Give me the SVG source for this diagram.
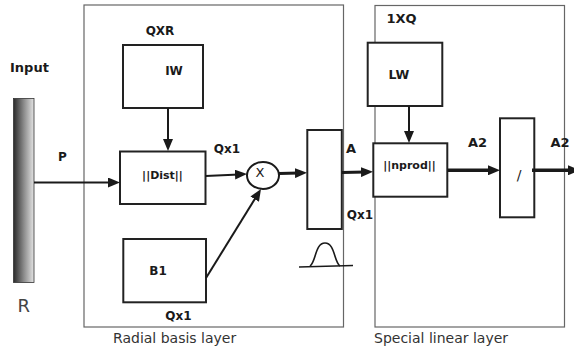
<svg xmlns="http://www.w3.org/2000/svg" width="574" height="351" viewBox="0 0 574 351">
<style>
text{font-family:"DejaVu Sans","Liberation Sans",sans-serif;fill:#1a1a1a}
.b{font-weight:bold}
.layer{fill:none;stroke:#666;stroke-width:1.2}
.box{fill:#fff;stroke:#222;stroke-width:2}
.cap{font-size:14px;fill:#333}
.conn{fill:none;stroke:#1a1a1a}
</style>
<defs>
<linearGradient id="bar" x1="0" y1="0" x2="1" y2="0">
<stop offset="0" stop-color="#2a2a2a"/>
<stop offset="0.5" stop-color="#8a8a8a"/>
<stop offset="1" stop-color="#e4e4e4"/>
</linearGradient>
<marker id="ah" markerUnits="userSpaceOnUse" markerWidth="12" markerHeight="10" refX="4" refY="5" orient="auto">
<path d="M0,0 L12,5 L0,10 z" fill="#1a1a1a"/>
</marker>
</defs>

<g id="layer-radial">
<rect class="layer" x="84" y="5" width="259.5" height="322"/>
<text class="cap" x="113" y="343">Radial basis layer</text>
</g>
<g id="layer-linear">
<rect class="layer" x="375" y="5.5" width="189.5" height="321.5"/>
<text class="cap" x="374" y="343">Special linear layer</text>
</g>

<g id="input">
<rect x="13.5" y="98.5" width="20.5" height="184" fill="url(#bar)" stroke="#333" stroke-width="0.8"/>
<text class="b" x="10" y="72" font-size="13">Input</text>
<text class="b" x="58" y="161" font-size="12">P</text>
<text x="17.5" y="312" font-size="18" fill="#444" style="fill:#444">R</text>
</g>

<g id="iw">
<rect class="box" x="123" y="45" width="80" height="63"/>
<text class="b" x="174" y="75" font-size="12" text-anchor="middle">IW</text>
<text class="b" x="160" y="34.5" font-size="12" text-anchor="middle">QXR</text>
</g>

<g id="dist">
<rect class="box" x="120" y="151.5" width="85.5" height="52.5"/>
<text class="b" x="162.5" y="179" font-size="11" text-anchor="middle">||Dist||</text>
</g>

<g id="b1">
<rect class="box" x="123.3" y="239" width="82.7" height="63.3"/>
<text class="b" x="158" y="275" font-size="12" text-anchor="middle">B1</text>
<text class="b" x="178.5" y="320" font-size="12" text-anchor="middle">Qx1</text>
</g>

<g id="mult">
<ellipse cx="263" cy="175.5" rx="16" ry="13.5" fill="#fff" stroke="#1a1a1a" stroke-width="2"/>
<text x="260" y="177" font-size="13" text-anchor="middle">X</text>
<text class="b" x="227" y="152.5" font-size="12" text-anchor="middle">Qx1</text>
</g>

<g id="radbas">
<rect class="box" x="307.3" y="130" width="34.5" height="99"/>
<text class="b" x="346" y="153" font-size="13">A</text>
<text class="b" x="360" y="219" font-size="12" text-anchor="middle">Qx1</text>
<path d="M299,267 L353,265.5" fill="none" stroke="#1a1a1a" stroke-width="1.5"/>
<path d="M310,266 C316,262 315,243 325,243 C335,243 334,262 340,266" fill="none" stroke="#1a1a1a" stroke-width="1.6"/>
</g>

<g id="lw">
<rect class="box" x="367.7" y="42.7" width="74.6" height="63.3"/>
<text class="b" x="399" y="79" font-size="12.5" text-anchor="middle">LW</text>
<text class="b" x="401.5" y="22.5" font-size="13" text-anchor="middle">1XQ</text>
</g>

<g id="nprod">
<rect class="box" x="373.3" y="143.3" width="74" height="53.4"/>
<text class="b" x="409.5" y="169" font-size="11" text-anchor="middle">||nprod||</text>
</g>

<g id="div">
<rect class="box" x="500" y="118.3" width="34.3" height="99"/>
<text x="519" y="180" font-size="14" text-anchor="middle">/</text>
<text class="b" x="477.5" y="146.5" font-size="13" text-anchor="middle">A2</text>
<text class="b" x="560" y="146.5" font-size="13" text-anchor="middle">A2</text>
</g>

<g id="connectors">
<path class="conn" d="M34,182.5 L112,182.5" stroke-width="2" marker-end="url(#ah)"/>
<path class="conn" d="M168,108 L168,143" stroke-width="2" marker-end="url(#ah)"/>
<path class="conn" d="M205.5,176 L239,174.4" stroke-width="2" marker-end="url(#ah)"/>
<path class="conn" d="M206,278 L256.8,195.8" stroke-width="2" marker-end="url(#ah)"/>
<path class="conn" d="M279,173.5 L299,173" stroke-width="3" marker-end="url(#ah)"/>
<path class="conn" d="M342,172.5 L365,172" stroke-width="3" marker-end="url(#ah)"/>
<path class="conn" d="M409,106 L409,135" stroke-width="2" marker-end="url(#ah)"/>
<path class="conn" d="M447.3,170.3 L492,170.3" stroke-width="3.5" marker-end="url(#ah)"/>
<path class="conn" d="M532,170.3 L572,170.3" stroke-width="3.5" marker-end="url(#ah)"/>
</g>
</svg>
